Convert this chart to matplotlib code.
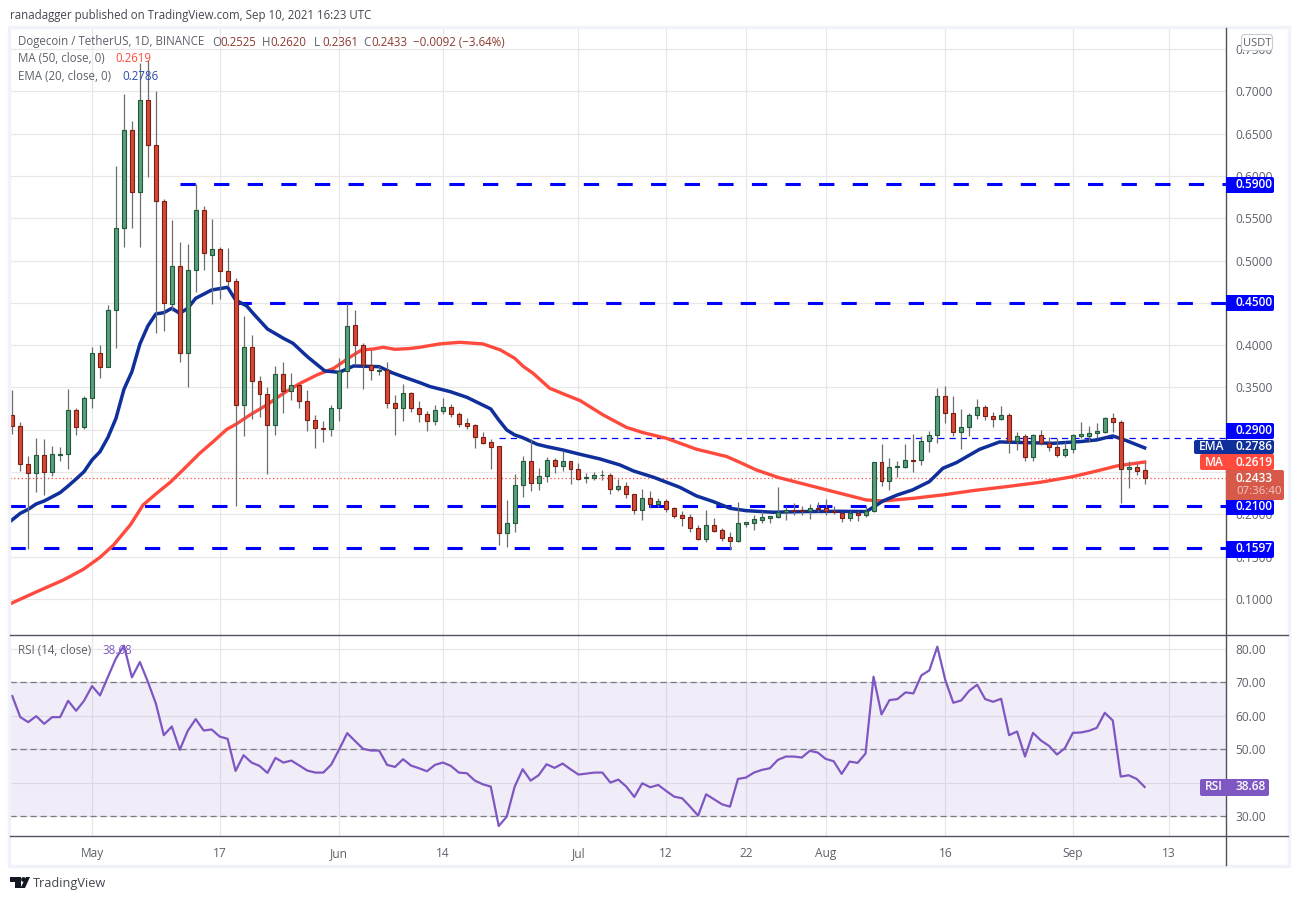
import numpy as np
import pandas as pd
import matplotlib
matplotlib.use("Agg")
import matplotlib.pyplot as plt
from matplotlib.patches import Rectangle, Polygon, Circle, FancyBboxPatch

plt.rcParams['font.family'] = ['Open Sans', 'DejaVu Sans']

W, H = 1298, 900

# daily candles, first one is 21 Apr 2021
start_date = pd.Timestamp('2021-04-21')

opens = [
    .3171, .3049, .2599, .2493, .2698, .2505, .2702, .2718, .3230, .3037,
    .3372, .3904, .3738, .4412, .5381, .6539, .5807, .6894, .6362, .5700,
    .4491, .4932, .3904, .4885, .5594, .5070, .5133, .4873, .4755, .3289,
    .3975, .3573, .3419, .3053, .3655, .3454, .3525, .3336, .3112, .3017,
    .3009, .3254, .3691, .4235, .3998, .3762, .3700, .3712, .3313, .3254,
    .3431, .3254, .3183, .3108, .3227, .3270, .3191, .3077, .3053, .2919,
    .2852, .2805, .1777, .1895, .2344, .2628, .2368, .2450, .2639, .2569,
    .2628, .2533, .2427, .2435, .2460, .2462, .2304, .2332, .2238, .2056,
    .2190, .2127, .2155, .2072, .1989, .1966, .1844, .1714, .1871, .1812,
    .1729, .1690, .1891, .1903, .1938, .1962, .1974, .2025, .2048, .2052,
    .2040, .2080, .2072, .2037, .2021, .1954, .2017, .1997, .2036, .2616,
    .2391, .2557, .2564, .2639, .2639, .2864, .2935, .3396, .3195, .2978,
    .3029, .3171, .3266, .3159, .3132, .3171, .2872, .2923, .2675, .2935,
    .2848, .2801, .2706, .2777, .2931, .2931, .2959, .2978, .3136, .3088,
    .2541, .2557, .2525,
]
closes = [
    .3049, .2599, .2493, .2698, .2505, .2710, .2714, .3230, .3037, .3372,
    .3904, .3738, .4412, .5382, .6539, .5807, .6894, .6362, .5700, .4502,
    .4932, .3911, .4885, .5594, .5086, .5133, .4873, .4755, .3289, .3975,
    .3573, .3419, .3053, .3655, .3454, .3525, .3336, .3112, .3017, .3009,
    .3254, .3691, .4223, .3998, .3762, .3703, .3712, .3313, .3254, .3431,
    .3254, .3183, .3108, .3230, .3270, .3191, .3073, .3049, .2919, .2848,
    .2801, .1777, .1895, .2344, .2628, .2368, .2450, .2639, .2569, .2628,
    .2533, .2423, .2439, .2462, .2465, .2304, .2332, .2238, .2056, .2190,
    .2127, .2155, .2068, .1985, .1962, .1844, .1714, .1871, .1808, .1725,
    .1690, .1895, .1911, .1942, .1970, .1982, .2025, .2048, .2040, .2040,
    .2080, .2068, .2037, .2025, .1954, .2017, .1997, .2036, .2616, .2391,
    .2557, .2568, .2639, .2634, .2864, .2935, .3396, .3195, .2978, .3029,
    .3171, .3266, .3159, .3132, .3171, .2872, .2923, .2675, .2935, .2848,
    .2801, .2706, .2769, .2935, .2947, .2959, .2982, .3136, .3088, .2541,
    .2557, .2517, .2433,
]
highs = [
    .3470, .3088, .2690, .2903, .2891, .2808, .2797, .3482, .3253, .3395,
    .3978, .3998, .4475, .6118, .6969, .6650, .7331, .7371, .7004, .5724,
    .5480, .5216, .5196, .5905, .5645, .5491, .5157, .5149, .4790, .4345,
    .4120, .3636, .3502, .3754, .3801, .3671, .3541, .3470, .3175, .3100,
    .3293, .3845, .4495, .4416, .4022, .3943, .3758, .3801, .3411, .3541,
    .3447, .3340, .3220, .3294, .3376, .3305, .3211, .3140, .3069, .2974,
    .2892, .2805, .2171, .2474, .2691, .2888, .2549, .2679, .2667, .2746,
    .2636, .2608, .2490, .2502, .2525, .2490, .2419, .2383, .2238, .2301,
    .2277, .2194, .2182, .2084, .2041, .2001, .1875, .2052, .1958, .1836,
    .1792, .2147, .1915, .1989, .2045, .1982, .2324, .2084, .2135, .2096,
    .2119, .2147, .2182, .2104, .2033, .2037, .2044, .2107, .2624, .2832,
    .2663, .2631, .2832, .2951, .2931, .2986, .3490, .3518, .3400, .3242,
    .3195, .3364, .3293, .3211, .3281, .3195, .2974, .2951, .2947, .2998,
    .2911, .2899, .2860, .2951, .3096, .3045, .3085, .3155, .3203, .3116,
    .2635, .2612, .2620,
]
lows = [
    .2950, .2513, .1587, .2265, .2229, .2454, .2631, .2536, .2938, .3013,
    .3261, .3612, .3738, .3971, .5164, .5385, .5164, .5992, .4148, .4172,
    .4400, .3805, .3510, .4632, .4889, .4491, .4546, .4700, .2103, .2930,
    .3123, .3155, .2473, .2942, .3202, .3352, .3261, .2990, .2789, .2860,
    .2930, .3108, .3498, .3766, .3486, .3588, .3648, .3261, .2942, .3108,
    .3214, .3096, .2990, .3057, .3187, .3156, .3033, .3014, .2789, .2830,
    .2541, .1639, .1619, .1796, .2210, .2281, .2289, .2387, .2494, .2517,
    .2364, .2410, .2375, .2407, .2407, .2241, .2281, .2194, .2005, .1934,
    .2080, .2092, .2033, .1962, .1863, .1796, .1702, .1678, .1796, .1690,
    .1584, .1678, .1855, .1816, .1899, .1903, .1962, .1934, .1993, .1993,
    .1946, .2025, .1993, .2005, .1914, .1926, .1926, .1973, .2033, .2336,
    .2289, .2442, .2549, .2505, .2584, .2742, .2848, .3084, .2931, .2769,
    .2931, .3128, .3120, .3037, .3116, .2730, .2761, .2635, .2635, .2824,
    .2754, .2683, .2683, .2722, .2899, .2860, .2899, .2958, .2978, .2139,
    .2316, .2466, .2361,
]

# moving averages, read at their turning points (candle index, price)
ema_days = [
    -0.3, 1, 2, 3, 4, 6, 7, 8, 9, 10, 11, 12, 13, 14, 15, 16, 17, 18, 19, 20,
    21, 22, 23, 25, 27, 28, 29.4, 30.2, 32, 34, 35.2, 37, 39.2, 41, 42.8, 46,
    47.6, 49.2, 51.1, 52.4, 54.9, 57, 60, 61, 62, 63, 64, 65.8, 67, 69, 71.2,
    73.7, 76.2, 77.9, 80.4, 83.7, 85.8, 87.9, 90, 92, 95.4, 99.2, 103.8, 107.1,
    109.2, 111, 112.9, 115, 116.7, 118.4, 121.3, 123.8, 130.5, 133.9, 136, 138,
    139.7, 142,
]
ema_values = [
    .1914, .2012, .2060, .2123, .2158, .2257, .2335, .2418, .2505, .2643,
    .2741, .2911, .3135, .3478, .3687, .4014, .4227, .4369, .4384, .4436,
    .4376, .4436, .4554, .4652, .4684, .4534, .4463, .4376, .4191, .4081,
    .4022, .3864, .3695, .3679, .3754, .3746, .3675, .3620, .3557, .3510,
    .3451, .3384, .3246, .3116, .2998, .2939, .2907, .2829, .2801, .2762,
    .2710, .2655, .2584, .2513, .2439, .2320, .2218, .2151, .2072, .2044,
    .2025, .2033, .2036, .2033, .2159, .2230, .2289, .2387, .2545, .2612,
    .2769, .2856, .2840, .2860, .2880, .2927, .2872, .2786,
]
ma_days = [
    -0.3, 3, 6.4, 8.9, 11, 12.7, 14.8, 16.4, 18.1, 19.8, 21.4, 23.5, 25.2, 26.9,
    28.1, 29.8, 31.9, 34, 36.1, 38.2, 40.3, 42.3, 43.8, 45.3, 46.5, 48, 49.7,
    51.1, 53.6, 56.1, 59, 61.2, 63, 64.1, 65.3, 67.4, 69.1, 71.2, 74.1, 77, 79.1,
    82, 85.8, 89.6, 91.3, 93.3, 96.1, 99.2, 103.8, 107.1, 109.2, 113, 116.7,
    120.5, 124.7, 128.9, 133, 136, 138.5, 142,
]
ma_values = [
    .0941, .1083, .1224, .1350, .1492, .1638, .1875, .2111, .2249, .2379, .2525,
    .2722, .2860, .3005, .3068, .3175, .3293, .3431, .3549, .3648, .3726, .3856,
    .3943, .3955, .3975, .3951, .3959, .3975, .4015, .4034, .4015, .3944, .3845,
    .3747, .3668, .3490, .3424, .3345, .3175, .3029, .2966, .2900, .2770, .2683,
    .2612, .2525, .2435, .2360, .2249, .2170, .2159, .2190, .2230, .2281, .2328,
    .2379, .2446, .2513, .2572, .2619,
]

rsi_values = [
    65.9, 59.6, 58.1, 59.9, 57.6, 59.6, 59.6, 64.5, 61.5, 64.5,
    68.9, 66.1, 71.7, 77.2, 81.0, 71.5, 76.1, 70.2, 63.7, 54.2,
    56.8, 49.8, 55.5, 59.0, 55.6, 55.9, 53.8, 53.1, 43.5, 48.2,
    46.0, 45.0, 42.9, 47.4, 46.0, 46.6, 45.1, 43.6, 43.0, 43.0,
    45.4, 50.0, 54.8, 52.4, 50.1, 49.6, 49.6, 45.3, 44.7, 47.0,
    45.1, 44.3, 43.4, 45.3, 46.0, 45.0, 43.0, 42.8, 40.6, 39.5,
    38.8, 27.0, 29.8, 38.8, 44.0, 40.6, 42.2, 45.5, 44.4, 45.7,
    44.0, 42.4, 42.7, 43.0, 43.0, 40.0, 40.9, 38.8, 35.7, 39.8,
    38.6, 39.3, 37.5, 35.8, 35.3, 32.8, 30.1, 36.5, 35.0, 33.5,
    32.8, 41.1, 41.5, 43.0, 43.8, 44.3, 46.8, 47.8, 47.8, 47.5,
    49.5, 49.0, 47.1, 46.4, 42.6, 46.3, 45.9, 48.7, 71.7, 60.4,
    64.7, 65.0, 67.0, 66.7, 72.1, 73.6, 80.7, 70.7, 63.9, 64.6,
    67.5, 69.3, 65.0, 64.2, 65.1, 54.2, 55.3, 47.8, 54.9, 52.6,
    51.0, 48.4, 50.3, 54.9, 55.0, 55.5, 56.4, 60.9, 58.6, 41.8,
    42.2, 41.1, 38.68,
]

price_ticks = [0.10, 0.15, 0.20, 0.25, 0.30, 0.35, 0.40, 0.45, 0.50, 0.55, 0.60, 0.65, 0.70, 0.75]
rsi_ticks = [30, 40, 50, 60, 70, 80]
date_ticks = ['2021-05-01', '2021-05-17', '2021-06-01', '2021-06-14', '2021-07-01', '2021-07-12',
              '2021-07-22', '2021-08-01', '2021-08-16', '2021-09-01', '2021-09-13']
date_labels = ['May', '17', 'Jun', '14', 'Jul', '12', '22', 'Aug', '16', 'Sep', '13']

# level, first candle of the line
thick_levels = [(0.59, 21.0), (0.45, 28.0), (0.21, -0.3), (0.1597, -0.3)]
thin_level = (0.29, 61.0)

GREEN_BODY = '#5B9C7A'
GREEN_EDGE = '#1F5A3A'
RED_BODY = '#D24A38'
RED_EDGE = '#7E1D12'
WICK = '#6E6E6E'
GRID = '#E8E8E8'
LEVEL_BLUE = '#0000FF'
EMA_BLUE = '#0F2F9A'
MA_RED = '#FF4A3D'
LAST_RED = '#D6594A'
RSI_PURPLE = '#7E57C2'
TEXT_GREY = '#5D606B'
AXIS_DARK = '#50535E'
FRAME = '#F0F3FA'

opens = np.array(opens)
closes = np.array(closes)
highs = np.array(highs)
lows = np.array(lows)
days = np.arange(len(closes))

fig = plt.figure(figsize=(W / 100, H / 100), dpi=100, facecolor='white')


def pane(left, top, right, bottom):
    return fig.add_axes([left / W, 1 - bottom / H, (right - left) / W, (bottom - top) / H])


ax = pane(10, 28, 1226, 635)
ax_rsi = pane(10, 635, 1226, 836)

xlim = (-0.288, 152.2)
tick_pos = [(pd.Timestamp(d) - start_date).days for d in date_ticks]

# ---- price pane ----
ax.set_xlim(xlim)
ax.set_ylim(0.0574, 0.7749)
ax.set_xticks(tick_pos)
ax.tick_params(axis='x', length=0, labelbottom=False)
ax.yaxis.tick_right()
ax.set_yticks(price_ticks)
ax.set_yticklabels([f"{p:.4f}" for p in price_ticks], fontsize=8.6, color=TEXT_GREY)
ax.tick_params(axis='y', length=0, pad=7)
ax.grid(True, color=GRID, linewidth=0.9, zorder=0)
ax.set_axisbelow(True)
for spine in ax.spines.values():
    spine.set_visible(False)

# support / resistance levels
for level, first in thick_levels:
    ax.plot([first, xlim[1]], [level, level], color=LEVEL_BLUE, linewidth=2.2,
            dashes=(5, 6), dash_capstyle='butt', zorder=2)
ax.plot([thin_level[1], xlim[1]], [thin_level[0], thin_level[0]], color=LEVEL_BLUE, linewidth=0.9,
        dashes=(5, 4), dash_capstyle='butt', zorder=2)
ax.axhline(closes[-1], color=MA_RED, linewidth=0.9, linestyle=(0, (1, 2)), zorder=2)

ax.plot(ma_days, ma_values, color=MA_RED, linewidth=2.4, solid_joinstyle='round', zorder=3)
ax.plot(ema_days, ema_values, color=EMA_BLUE, linewidth=2.5, solid_joinstyle='round', zorder=3)

# candles
up = closes >= opens
body_colors = [GREEN_BODY if u else RED_BODY for u in up]
edge_colors = [GREEN_EDGE if u else RED_EDGE for u in up]
ax.vlines(days, lows, highs, color=WICK, linewidth=0.9, zorder=4)
ax.bar(days, np.abs(closes - opens), bottom=np.minimum(opens, closes), width=0.5,
       color=body_colors, edgecolor=edge_colors, linewidth=0.8, zorder=5)

# ---- rsi pane ----
ax_rsi.set_xlim(xlim)
ax_rsi.set_ylim(80 - (836 - 649) / 3.34, 80 + (649 - 635) / 3.34)
ax_rsi.set_xticks(tick_pos)
ax_rsi.set_xticklabels(date_labels, fontsize=8.6, color=TEXT_GREY)
ax_rsi.tick_params(axis='x', length=0, pad=8)
ax_rsi.yaxis.tick_right()
ax_rsi.set_yticks(rsi_ticks)
ax_rsi.set_yticklabels([f"{r:.2f}" for r in rsi_ticks], fontsize=8.6, color=TEXT_GREY)
ax_rsi.tick_params(axis='y', length=0, pad=7)
ax_rsi.grid(True, color=GRID, linewidth=0.9, zorder=0)
ax_rsi.set_axisbelow(True)
for spine in ax_rsi.spines.values():
    spine.set_visible(False)

ax_rsi.axhspan(30, 70, color=RSI_PURPLE, alpha=0.10, linewidth=0, zorder=1)
for level in [70, 50, 30]:
    ax_rsi.axhline(level, color='#787B86', linewidth=0.9, dashes=(5, 3), zorder=2)
ax_rsi.plot(days, rsi_values, color=RSI_PURPLE, linewidth=1.6, zorder=3)

# ---- everything around the panes, drawn in pixel coordinates ----
over = fig.add_axes([0, 0, 1, 1], facecolor='none', zorder=10)
over.set_xlim(0, W)
over.set_ylim(H, 0)
over.axis('off')

# frame
over.add_patch(Rectangle((8.5, 26.5), 1280, 839, fill=False, edgecolor=FRAME, linewidth=2.4))
over.plot([10, 1288], [635, 635], color=AXIS_DARK, linewidth=1.0)
over.plot([10, 1288], [836, 836], color=AXIS_DARK, linewidth=1.0)
over.plot([1226, 1226], [28, 865], color=AXIS_DARK, linewidth=1.0)


def box(x0, y0, x1, y1, color, round_side='right'):
    over.add_patch(FancyBboxPatch((x0 + 1.5, y0 + 1.5), x1 - x0 - 3, y1 - y0 - 3,
                                  boxstyle='round,pad=1.5,rounding_size=2', facecolor=color,
                                  edgecolor='none', zorder=20))
    # square off the side that touches the scale
    if round_side == 'right':
        over.add_patch(Rectangle((x0, y0), 4, y1 - y0, facecolor=color, edgecolor='none', zorder=20))
    else:
        over.add_patch(Rectangle((x1 - 4, y0), 4, y1 - y0, facecolor=color, edgecolor='none', zorder=20))


def label(x, y, s, color='white', size=8.6, ha='left', **kw):
    over.text(x, y, s, color=color, fontsize=size, ha=ha, va='center', zorder=21, **kw)


# level tags on the price scale
for y0, y1, s in [(177, 193, '0.5900'), (295, 311, '0.4500'), (423, 439, '0.2900'),
                  (500, 515, '0.2100'), (541, 558, '0.1597')]:
    box(1226, y0, 1274, y1, LEVEL_BLUE)
    label(1236, (y0 + y1) / 2 - 0.5, s, fontweight='semibold')

box(1226, 440, 1274, 454, EMA_BLUE)
box(1194, 440, 1226, 454, EMA_BLUE, round_side='left')
label(1236, 447, '0.2786', fontweight='semibold')
label(1199, 447, 'EMA', fontweight='semibold')

box(1226, 454, 1274, 470, MA_RED)
box(1200, 454, 1226, 470, MA_RED, round_side='left')
label(1236, 462, '0.2619', fontweight='semibold')
label(1205, 462, 'MA', fontweight='semibold')

box(1226, 470, 1284, 500, LAST_RED)
label(1236, 479, '0.2433', fontweight='semibold')
label(1236, 492, '07:36:40', color='#F2C9C3', size=8.2)

box(1226, 779, 1269, 796, RSI_PURPLE)
box(1200, 779, 1226, 796, RSI_PURPLE, round_side='left')
label(1236, 787, '38.68', fontweight='semibold')
label(1205, 787, 'RSI', fontweight='semibold')

# currency button
over.add_patch(FancyBboxPatch((1242, 35), 30, 15, boxstyle='round,pad=0.5,rounding_size=3',
                              facecolor='white', edgecolor='#C8CBD2', linewidth=0.8, zorder=20))
label(1257, 43, 'USDT', color=TEXT_GREY, size=8.0, ha='center')

# header and legends
label(10, 15, 'ranadagger published on TradingView.com, Sep 10, 2021 16:23 UTC', color='#444750', size=8.3)
label(18, 42, 'Dogecoin / TetherUS, 1D, BINANCE', color=TEXT_GREY, size=8.3)
VALUE_RED = '#8C3A30'
for x, head, val in [(212, 'O', '0.2525'), (262, 'H', '0.2620'), (314, 'L', '0.2361'), (363, 'C', '0.2433')]:
    label(x, 42, head, color=TEXT_GREY, size=8.3)
    label(x + 8, 42, val, color=VALUE_RED, size=8.3)
label(413, 42, '\u22120.0092 (\u22123.64%)', color=VALUE_RED, size=8.3)
label(18, 59, 'MA (50, close, 0)', color=TEXT_GREY, size=8.3)
label(115, 59, '0.2619', color=MA_RED, size=8.3)
label(18, 76, 'EMA (20, close, 0)', color=TEXT_GREY, size=8.3)
label(122, 76, '0.2786', color='#2A4DB0', size=8.3)
label(18, 651, 'RSI (14, close)', color=TEXT_GREY, size=8.3)
label(102, 651, '38.68', color=RSI_PURPLE, size=8.3)

# footer logo
over.add_patch(Polygon([(10, 877), (21, 877), (21, 888), (15, 888), (15, 882), (10, 882)], facecolor='#131722'))
over.add_patch(Circle((23.5, 879.5), 2.4, facecolor='#131722'))
over.add_patch(Polygon([(26, 877), (30, 877), (25, 888), (20.5, 888)], facecolor='#131722'))
label(33, 883, 'TradingView', color='#444750', size=9.2)

fig.savefig('out.png', dpi=100, facecolor='white')
